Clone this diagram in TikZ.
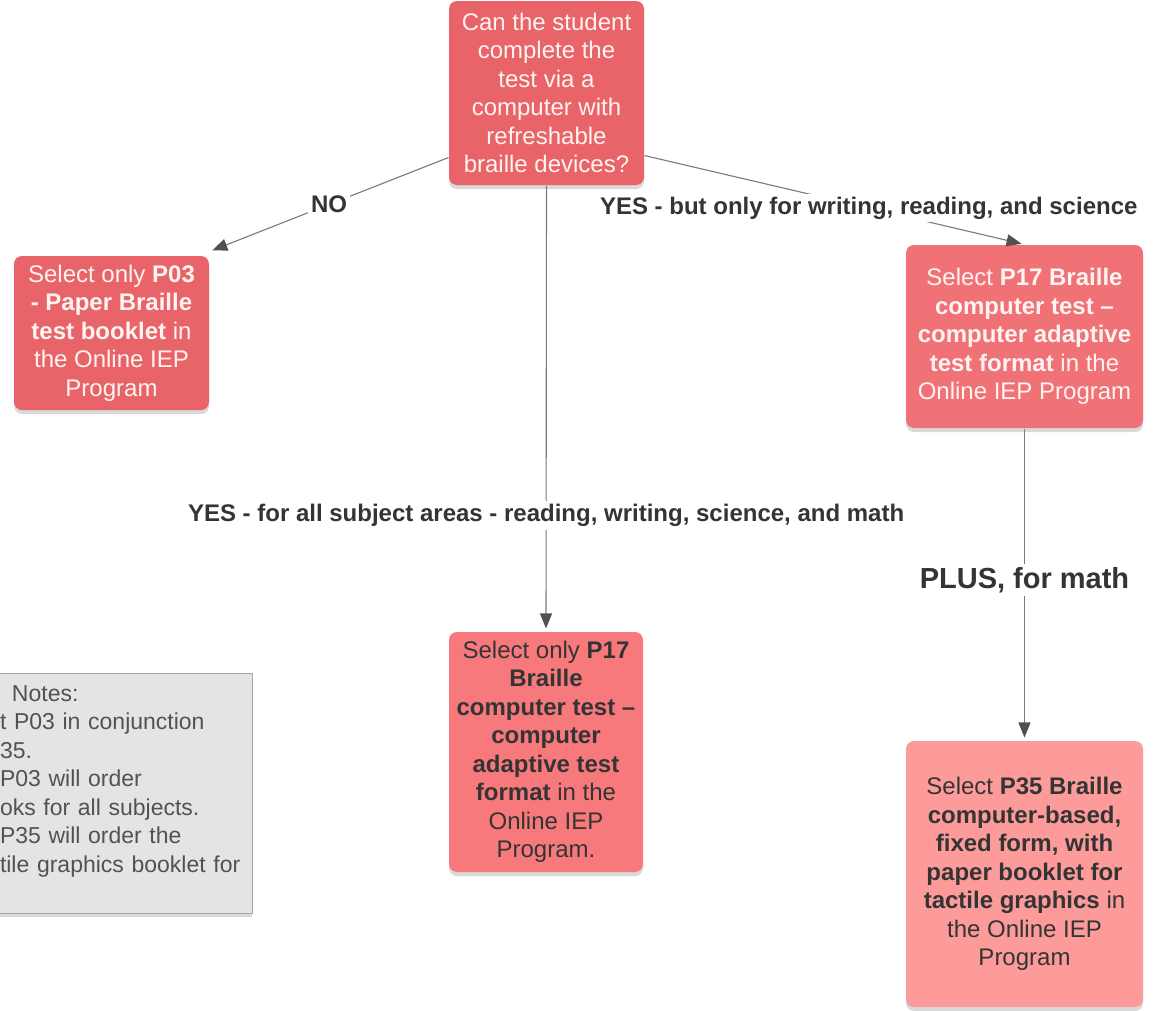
\documentclass[tikz,border=0pt]{standalone}
\usepackage{fontspec}
\setmainfont{Liberation Sans}
\usetikzlibrary{arrows.meta,shadows}
\definecolor{askred}{HTML}{E96468}
\definecolor{pickred}{HTML}{F07276}
\definecolor{onlyred}{HTML}{F8797B}
\definecolor{plusred}{HTML}{FD9B9B}
\definecolor{paletext}{HTML}{FFF4F1}
\definecolor{darktext}{HTML}{343434}
\definecolor{linegray}{HTML}{7A7A7A}
\definecolor{tipgray}{HTML}{505050}
\definecolor{notegray}{HTML}{E4E4E4}

\begin{document}
\begin{tikzpicture}[x=1pt,y=-1pt,->,>={Triangle[length=15pt,width=12pt,color=tipgray]},
		shorten >=3pt,line width=1.1pt,draw=linegray,font=\fontsize{24}{28.5}\selectfont]
		\tikzstyle{box}=[draw=none,rounded corners=8pt,align=center,inner sep=2pt,
		drop shadow={shadow xshift=0pt,shadow yshift=-4pt,opacity=0.3}]
		\tikzstyle{lbl}=[fill=white,text=darktext,inner sep=3pt,
		font=\fontsize{24}{28.5}\selectfont\bfseries]
		
		\useasboundingbox (0,0) rectangle (1160,1010);
		\clip (0,0) rectangle (1160,1010);
		
		\node[box,fill=askred,text=paletext,minimum width=195pt,minimum height=184pt] (q) at (546.5,93)
		{Can the student\\complete the\\test via a\\computer with\\refreshable\\braille devices?};
		\node[box,fill=askred,text=paletext,minimum width=195pt,minimum height=154pt] (p03) at (111.5,333)
		{Select only \textbf{P03}\\\textbf{- Paper Braille}\\\textbf{test booklet} in\\the Online IEP\\Program};
		\node[box,fill=pickred,text=paletext,minimum width=237pt,minimum height=183pt] (p17) at (1024.5,336.5)
		{Select \textbf{P17 Braille}\\\textbf{computer test \textendash}\\\textbf{computer adaptive}\\\textbf{test format} in the\\Online IEP Program};
		\node[box,fill=onlyred,text=darktext,minimum width=194pt,minimum height=240pt] (p17only) at (546,752)
		{Select only \textbf{P17}\\\textbf{Braille}\\\textbf{computer test \textendash}\\\textbf{computer}\\\textbf{adaptive test}\\\textbf{format} in the\\Online IEP\\Program.};
		\node[box,fill=plusred,text=darktext,minimum width=237pt,minimum height=266pt] (p35) at (1024.5,874)
		{Select \textbf{P35 Braille}\\\textbf{computer-based,}\\\textbf{fixed form, with}\\\textbf{paper booklet for}\\\textbf{tactile graphics} in\\the Online IEP\\Program};
		\node[box,rounded corners=0pt,draw=gray!70,line width=0.9pt,fill=notegray,text=darktext!85,
		align=left,text width=250pt,minimum height=240pt,font=\fontsize{23}{28.5}\selectfont] (notes) at (125,793)
		{\hspace*{12pt}Notes:\\t P03 in conjunction\\35.\\P03 will order\\oks for all subjects.\\P35 will order the\\\mbox{tile graphics booklet for}\\\mbox{}};
		
		\path 
		([yshift=28pt]q.south west) edge node[lbl,pos=0.5] {NO} ([yshift=4pt]p03.north east)
		([yshift=30pt]q.south east) edge node[lbl,pos=0.59] {YES - but only for writing, reading, and science} (p17.north)
		(q.south) edge node[lbl,pos=0.74] {YES - for all subject areas - reading, writing, science, and math} (p17only.north)
		(p17.south) edge node[lbl,pos=0.486,font=\fontsize{29}{34}\selectfont\bfseries] {PLUS, for math} (p35.north);
		\end{tikzpicture}
\end{document}
